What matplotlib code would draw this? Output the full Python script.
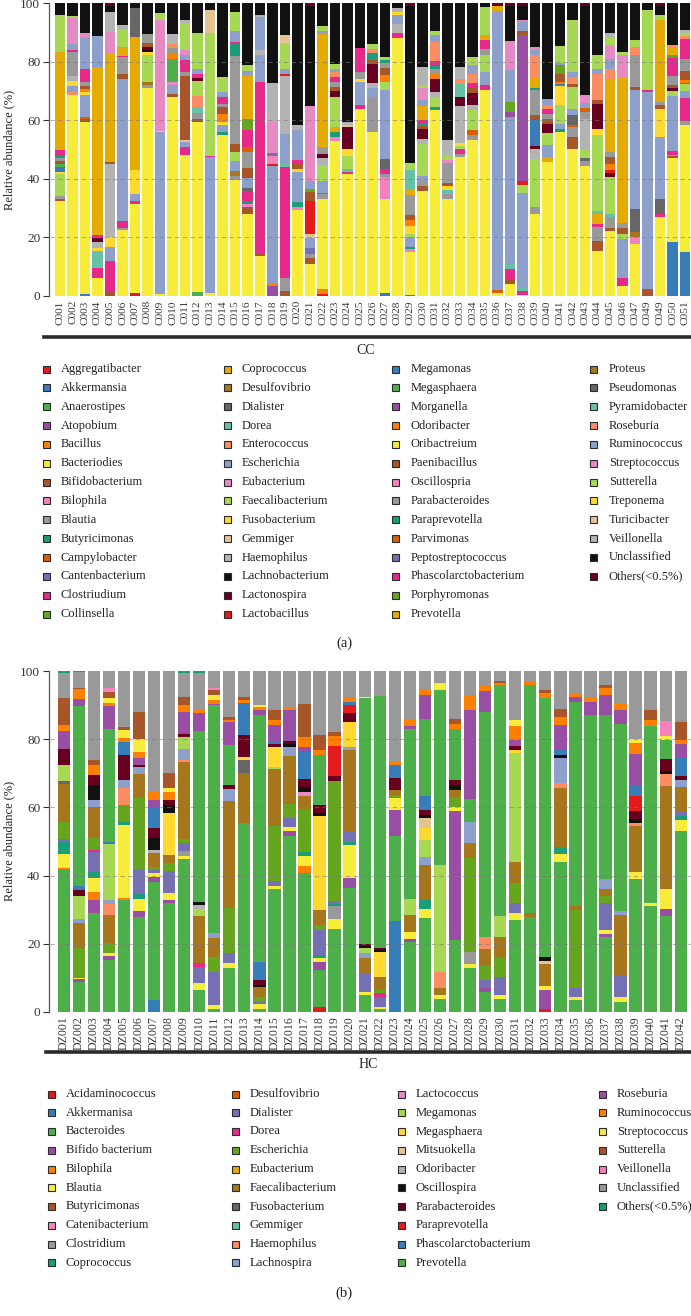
import matplotlib
matplotlib.use("Agg")
import matplotlib.pyplot as plt
from matplotlib.patches import Rectangle
from matplotlib.lines import Line2D
import numpy as np

plt.rcParams['font.family'] = ['Liberation Serif', 'DejaVu Serif']

# ---------------- colour cycle (27 colours, assigned in legend order) ----------------
PALETTE = ["#E41A1C", "#377EB8", "#4DAF4A", "#984EA3", "#FF7F00", "#F8EC3A", "#A65628", "#F781BF", "#999999",
           "#1B9E77", "#D95F02", "#7570B3", "#E7298A", "#66A61E", "#E6AB02", "#A6761D", "#666666",
           "#66C2A5", "#FC8D62", "#8DA0CB", "#E78AC3", "#A6D854", "#FFD92F", "#E5C494", "#B3B3B3",
           "#111111", "#67001F"]

# ---------------- panel (a): CC ----------------
a_taxa = ["Aggregatibacter", "Akkermansia", "Anaerostipes", "Atopobium", "Bacillus", "Bacteriodies",
          "Bifidobacterium", "Bilophila", "Blautia", "Butyricimonas", "Campylobacter", "Cantenbacterium",
          "Clostriudium", "Collinsella", "Coprococcus", "Desulfovibrio", "Dialister", "Dorea", "Enterococcus",
          "Escherichia", "Eubacterium", "Faecalibacterium", "Fusobacterium", "Gemmiger", "Haemophilus",
          "Lachnobacterium", "Lactonospira", "Lactobacillus", "Megamonas", "Megasphaera", "Morganella",
          "Odoribacter", "Oribactreium", "Paenibacillus", "Oscillospria", "Parabacteroides", "Paraprevotella",
          "Parvimonas", "Peptostreptococcus", "Phascolarctobacterium", "Porphyromonas", "Prevotella", "Proteus",
          "Pseudomonas", "Pyramidobacter", "Roseburia", "Ruminococcus", "Streptococcus", "Sutterella",
          "Treponema", "Turicibacter", "Veillonella", "Unclassified", "Others(<0.5%)"]

a_labels = ["C%03d" % i for i in range(1, 48)] + ["C049", "C049", "C050", "C051"]

C001 = {"Bacteriodies": 32.5, "Bifidobacterium": 0.7, "Blautia": 1, "Faecalibacterium": 7.5, "Fusobacterium": 0.8, "Megamonas": 1.5, "Megasphaera": 1, "Paenibacillus": 1, "Parabacteroides": 1, "Paraprevotella": 1, "Phascolarctobacterium": 2, "Prevotella": 33.5, "Sutterella": 12.5, "Unclassified": 4}
C002 = {"Bacteriodies": 68.6, "Enterococcus": 0.8, "Escherichia": 2.3, "Fusobacterium": 1.4, "Haemophilus": 2, "Parabacteroides": 8, "Phascolarctobacterium": 0.6, "Ruminococcus": 2, "Streptococcus": 9, "Sutterella": 0.7, "Unclassified": 4.3}
C003 = {"Akkermansia": 0.6, "Bacteriodies": 59, "Bifidobacterium": 1, "Campylobacter": 0.6, "Escherichia": 7.5, "Fusobacterium": 1, "Odoribacter": 1, "Paenibacillus": 1, "Parabacteroides": 1.5, "Phascolarctobacterium": 4.6, "Ruminococcus": 10.6, "Streptococcus": 1.4, "Unclassified": 10.3}
C004 = {"Bacteriodies": 6, "Clostriudium": 3.4, "Dorea": 5.8, "Haemophilus": 2, "Fusobacterium": 1.3, "Lactonospira": 1.2, "Phascolarctobacterium": 1, "Prevotella": 57.3, "Ruminococcus": 10.7, "Unclassified": 11}
C005 = {"Bifidobacterium": 1.7, "Clostriudium": 10.3, "Escherichia": 4.6, "Fusobacterium": 3.4, "Haemophilus": 25, "Paenibacillus": 0.7, "Prevotella": 37.2, "Streptococcus": 7.4, "Veillonella": 6.8, "Unclassified": 1.9, "Others(<0.5%)": 1}
C006 = {"Bacteriodies": 22.5, "Blautia": 0.9, "Clostriudium": 2.3, "Escherichia": 48.6, "Paenibacillus": 1.7, "Parabacteroides": 5.7, "Phascolarctobacterium": 0.5, "Prevotella": 3, "Sutterella": 6, "Veillonella": 1.5, "Unclassified": 7.5}
C007 = {"Aggregatibacter": 1.1, "Bacteriodies": 30.3, "Clostriudium": 1.2, "Escherichia": 2.3, "Fusobacterium": 8, "Prevotella": 45.7, "Pseudomonas": 9.7, "Unclassified": 1.7}
C008 = {"Bacteriodies": 70.9, "Blautia": 1.1, "Desulfovibrio": 1.1, "Faecalibacterium": 9.2, "Fusobacterium": 1, "Lachnobacterium": 0.7, "Lactonospira": 0.8, "Paenibacillus": 1.3, "Parabacteroides": 3.4, "Unclassified": 10.3}
C009 = {"Bacteriodies": 0.6, "Escherichia": 55.4, "Gemmiger": 0.4, "Streptococcus": 38, "Sutterella": 2.3, "Unclassified": 3.4}
C010 = {"Bacteriodies": 68, "Bifidobacterium": 1, "Escherichia": 3, "Eubacterium": 1, "Megasphaera": 8, "Odoribacter": 1.8, "Parabacteroides": 2, "Roseburia": 1.2, "Veillonella": 3.5, "Unclassified": 10.5}
C011 = {"Bacteriodies": 48, "Clostriudium": 2.9, "Escherichia": 1.6, "Gemmiger": 0.5, "Paenibacillus": 21.8, "Parabacteroides": 1.6, "Phascolarctobacterium": 4, "Ruminococcus": 1.7, "Streptococcus": 1.7, "Sutterella": 9.1, "Veillonella": 1.1, "Unclassified": 5.7}
C012 = {"Anaerostipes": 1.5, "Bacteriodies": 57.9, "Bifidobacterium": 1, "Blautia": 2, "Dorea": 2, "Enterococcus": 4, "Faecalibacterium": 5, "Lactonospira": 1, "Phascolarctobacterium": 1.5, "Ruminococcus": 1.5, "Sutterella": 12.5, "Unclassified": 10}
C013 = {"Bacteriodies": 1, "Escherichia": 46.4, "Phascolarctobacterium": 0.6, "Sutterella": 41.7, "Turicibacter": 8, "Unclassified": 2.3}
C014 = {"Bacteriodies": 54.9, "Butyricimonas": 1, "Escherichia": 2.3, "Fusobacterium": 1.1, "Odoribacter": 2.9, "Paenibacillus": 2.3, "Parabacteroides": 1, "Phascolarctobacterium": 2.3, "Ruminococcus": 1.7, "Sutterella": 5.2, "Unclassified": 25.1}
C015 = {"Bacteriodies": 39.4, "Blautia": 1.1, "Desulfovibrio": 1.7, "Escherichia": 3.4, "Faecalibacterium": 3, "Paenibacillus": 2.8, "Parabacteroides": 29.7, "Paraprevotella": 4.1, "Phascolarctobacterium": 0.8, "Ruminococcus": 3.6, "Sutterella": 6.4, "Unclassified": 3}
C016 = {"Bacteriodies": 28, "Bifidobacterium": 2.3, "Bilophila": 1.1, "Butyricimonas": 1.1, "Clostriudium": 3.4, "Dialister": 1, "Escherichia": 3.5, "Paenibacillus": 3.4, "Parabacteroides": 5.5, "Parvimonas": 1.7, "Phascolarctobacterium": 5.7, "Porphyromonas": 4, "Prevotella": 14.4, "Ruminococcus": 2, "Sutterella": 2, "Unclassified": 21}
C017 = {"Bacteriodies": 13.7, "Bifidobacterium": 0.6, "Clostriudium": 58.7, "Escherichia": 9.3, "Haemophilus": 1.7, "Ruminococcus": 11.4, "Veillonella": 0.6, "Unclassified": 4}
C018 = {"Atopobium": 3.4, "Bacillus": 1.1, "Escherichia": 40, "Lactobacillus": 0.6, "Oscillospria": 2.7, "Peptostreptococcus": 1, "Streptococcus": 10.8, "Veillonella": 13.2, "Unclassified": 27.4}
C019 = {"Bifidobacterium": 1.7, "Blautia": 4.6, "Clostriudium": 37.7, "Dorea": 1.1, "Escherichia": 10.4, "Haemophilus": 19.6, "Lactobacillus": 0.9, "Ruminococcus": 1.7, "Sutterella": 8.6, "Turicibacter": 2.7, "Unclassified": 11}
C020 = {"Bacteriodies": 29.3, "Bilophila": 1.1, "Butyricimonas": 1.7, "Escherichia": 10.3, "Fusobacterium": 1.1, "Paenibacillus": 1.7, "Phascolarctobacterium": 1.1, "Ruminococcus": 10.3, "Veillonella": 1.7, "Unclassified": 41.7}
C021 = {"Bacteriodies": 10.9, "Bifidobacterium": 2.2, "Blautia": 1.1, "Cantenbacterium": 2.3, "Escherichia": 3.4, "Gemmiger": 1.1, "Lactobacillus": 11.5, "Paenibacillus": 2.8, "Porphyromonas": 1.1, "Ruminococcus": 2.8, "Streptococcus": 25.6, "Unclassified": 34, "Others(<0.5%)": 1}
C022 = {"Aggregatibacter": 0.6, "Bacillus": 1.7, "Bacteriodies": 30.7, "Blautia": 1.7, "Campylobacter": 0.6, "Escherichia": 4, "Faecalibacterium": 5.6, "Haemophilus": 2.4, "Lactonospira": 1.2, "Parabacteroides": 2.3, "Prevotella": 38.8, "Ruminococcus": 1, "Sutterella": 1.6, "Unclassified": 7.8}
C023 = {"Bacteriodies": 53.1, "Bilophila": 1.1, "Butyricimonas": 1.7, "Coprococcus": 1.7, "Faecalibacterium": 10.3, "Lactonospira": 2.3, "Paenibacillus": 1.1, "Parabacteroides": 1.7, "Phascolarctobacterium": 1.7, "Roseburia": 1.7, "Ruminococcus": 1.1, "Sutterella": 1.7, "Unclassified": 20.8}
C024 = {"Bacteriodies": 41.7, "Clostriudium": 0.6, "Dorea": 1.1, "Faecalibacterium": 4.6, "Fusobacterium": 2.3, "Lactonospira": 7.4, "Turicibacter": 0.8, "Veillonella": 0.9, "Unclassified": 40.6}
C025 = {"Bacteriodies": 64, "Clostriudium": 1.1, "Escherichia": 8, "Fusobacterium": 1.2, "Parabacteroides": 2.3, "Phascolarctobacterium": 8, "Unclassified": 15.4}
C026 = {"Bacteriodies": 56, "Blautia": 11.4, "Escherichia": 3.5, "Haemophilus": 1.7, "Lactonospira": 6.3, "Paenibacillus": 1.6, "Paraprevotella": 2.3, "Roseburia": 1.5, "Sutterella": 1.7, "Unclassified": 13.7}
C027 = {"Akkermansia": 1.1, "Bacteriodies": 32, "Bilophila": 7.4, "Blautia": 1.1, "Clostriudium": 1.7, "Dialister": 3.4, "Escherichia": 23.4, "Faecalibacterium": 2.8, "Odoribacter": 2.3, "Paenibacillus": 2.3, "Parabacteroides": 1.7, "Paraprevotella": 1.1, "Sutterella": 1.1, "Unclassified": 18.3}
C028 = {"Bacteriodies": 88, "Clostriudium": 1.7, "Haemophilus": 3.3, "Ruminococcus": 3, "Treponema": 1, "Veillonella": 1.3, "Unclassified": 1.7}
C029 = {"Akkermansia": 0.5, "Bacteriodies": 14.4, "Bilophila": 1, "Butyricimonas": 1, "Escherichia": 3.4, "Faecalibacterium": 1, "Fusobacterium": 2.7, "Odoribacter": 2, "Paenibacillus": 1.7, "Parabacteroides": 6.8, "Prevotella": 1.6, "Pyramidobacter": 7, "Sutterella": 2.3, "Unclassified": 53.6, "Others(<0.5%)": 1}
C030 = {"Bacteriodies": 36, "Bifidobacterium": 1.7, "Blautia": 1.5, "Escherichia": 1.7, "Faecalibacterium": 10.9, "Haemophilus": 1.7, "Lactonospira": 3.4, "Paenibacillus": 1.1, "Paraprevotella": 1, "Phascolarctobacterium": 1, "Prevotella": 5, "Ruminococcus": 1.9, "Streptococcus": 4, "Sutterella": 1.1, "Veillonella": 6.3, "Unclassified": 21.7}
C031 = {"Bacteriodies": 63.4, "Butyricimonas": 1.1, "Faecalibacterium": 3.4, "Haemophilus": 1.7, "Lactonospira": 4.6, "Odoribacter": 1.7, "Parabacteroides": 1.7, "Paraprevotella": 1.1, "Phascolarctobacterium": 1.7, "Roseburia": 6.3, "Ruminococcus": 2.3, "Sutterella": 1.6, "Unclassified": 9.4}
C032 = {"Bacteriodies": 33, "Blautia": 1.7, "Dorea": 1.4, "Fusobacterium": 1.4, "Paenibacillus": 1.1, "Parabacteroides": 6.9, "Streptococcus": 1.1, "Sutterella": 1.1, "Veillonella": 5.7, "Unclassified": 46.6}
C033 = {"Bacteriodies": 47.4, "Blautia": 1.1, "Clostriudium": 1.7, "Faecalibacterium": 1.1, "Fusobacterium": 1.1, "Haemophilus": 12.6, "Lactonospira": 2.9, "Pyramidobacter": 4.6, "Roseburia": 1.7, "Veillonella": 4, "Unclassified": 21.8}
C034 = {"Bacteriodies": 53, "Blautia": 1.7, "Campylobacter": 1.6, "Faecalibacterium": 6.9, "Haemophilus": 1.7, "Lactonospira": 4, "Paenibacillus": 1.7, "Phascolarctobacterium": 1.7, "Roseburia": 3, "Ruminococcus": 3, "Sutterella": 2.7, "Unclassified": 18.3}
C035 = {"Bacteriodies": 70.3, "Clostriudium": 1.7, "Escherichia": 4.6, "Faecalibacterium": 5.7, "Parabacteroides": 2.3, "Phascolarctobacterium": 2.9, "Prevotella": 1.6, "Sutterella": 9.9, "Unclassified": 1.1}
C036 = {"Bacteriodies": 1, "Campylobacter": 1, "Escherichia": 95.5, "Prevotella": 1.5, "Others(<0.5%)": 1}
C037 = {"Bacteriodies": 4, "Bifidobacterium": 1.7, "Clostriudium": 3.4, "Dorea": 2.2, "Escherichia": 50, "Morganella": 1.7, "Porphyromonas": 3.4, "Ruminococcus": 10.7, "Streptococcus": 9.9, "Unclassified": 12, "Others(<0.5%)": 1}
C038 = {"Bacteriodies": 0.5, "Clostriudium": 1.1, "Dorea": 1, "Escherichia": 32.7, "Faecalibacterium": 2.7, "Lactobacillus": 1.2, "Morganella": 50.1, "Paenibacillus": 1.1, "Ruminococcus": 3.4, "Streptococcus": 0.6, "Unclassified": 4.6, "Others(<0.5%)": 1}
C039 = {"Bacteriodies": 28, "Blautia": 2.3, "Faecalibacterium": 16.6, "Haemophilus": 3.4, "Lactonospira": 1.1, "Megamonas": 8.6, "Paenibacillus": 1.7, "Parabacteroides": 8.6, "Paraprevotella": 0.6, "Prevotella": 4, "Roseburia": 7.4, "Ruminococcus": 1.7, "Streptococcus": 1.1, "Unclassified": 14.9}
C040 = {"Bacteriodies": 45, "Coprococcus": 1.9, "Escherichia": 4, "Faecalibacterium": 4, "Lactonospira": 2.9, "Paenibacillus": 1.7, "Parabacteroides": 1.7, "Phascolarctobacterium": 1.7, "Roseburia": 1.1, "Ruminococcus": 2.3, "Unclassified": 32.2}
C041 = {"Bacteriodies": 55.4, "Butyricimonas": 1.1, "Escherichia": 1.7, "Faecalibacterium": 6.4, "Fusobacterium": 6.4, "Megamonas": 0.6, "Odoribacter": 0.6, "Paenibacillus": 2.9, "Porphyromonas": 2.8, "Ruminococcus": 0.8, "Sutterella": 5.7, "Unclassified": 14.5}
C042 = {"Bacteriodies": 50.3, "Bifidobacterium": 4, "Blautia": 3.4, "Campylobacter": 0.6, "Dialister": 3.4, "Escherichia": 2.3, "Faecalibacterium": 7.4, "Paenibacillus": 1, "Roseburia": 2.3, "Ruminococcus": 1.7, "Sutterella": 17.9, "Unclassified": 5.7}
C043 = {"Bacteriodies": 44, "Blautia": 1.7, "Dialister": 1.1, "Faecalibacterium": 2.9, "Haemophilus": 10.3, "Parabacteroides": 2.3, "Parvimonas": 1.6, "Ruminococcus": 1.7, "Streptococcus": 2.7, "Unclassified": 30, "Others(<0.5%)": 1}
C044 = {"Bacteriodies": 15.4, "Bifidobacterium": 3.5, "Blautia": 4.5, "Clostriudium": 1.1, "Coprococcus": 3.4, "Dorea": 1.1, "Faecalibacterium": 25.8, "Fusobacterium": 2.2, "Lactonospira": 8.6, "Paenibacillus": 1.1, "Roseburia": 9.1, "Ruminococcus": 1.7, "Sutterella": 4.6, "Unclassified": 17.7}
C045 = {"Bacteriodies": 22.3, "Bifidobacterium": 1.1, "Blautia": 3.5, "Dorea": 1.1, "Faecalibacterium": 12.6, "Lactonospira": 1.4, "Lactobacillus": 1.1, "Odoribacter": 2, "Paenibacillus": 2.4, "Parabacteroides": 1.7, "Prevotella": 24.6, "Roseburia": 4, "Ruminococcus": 3.3, "Streptococcus": 4.7, "Sutterella": 2.3, "Veillonella": 1.7, "Unclassified": 10.3}
C046 = {"Bacteriodies": 3.4, "Clostriudium": 2.9, "Escherichia": 13.1, "Faecalibacterium": 1.7, "Paenibacillus": 2, "Parabacteroides": 1.9, "Prevotella": 49.9, "Streptococcus": 7.4, "Sutterella": 1.1, "Unclassified": 16.6}
C047 = {"Bacteriodies": 17.7, "Bilophila": 2.3, "Desulfovibrio": 1.7, "Dialister": 8, "Escherichia": 40.6, "Paenibacillus": 1.1, "Parabacteroides": 10.9, "Roseburia": 2.7, "Sutterella": 2.4, "Unclassified": 12.6}
C048 = {"Bifidobacterium": 2.3, "Escherichia": 67.4, "Phascolarctobacterium": 0.6, "Sutterella": 27.4, "Unclassified": 2.3}
C049 = {"Bacteriodies": 27, "Clostriudium": 1, "Dialister": 5.1, "Escherichia": 21.2, "Fusobacterium": 9.7, "Paenibacillus": 1.1, "Parabacteroides": 1.2, "Prevotella": 28, "Sutterella": 1.7, "Unclassified": 3, "Others(<0.5%)": 1}
C050 = {"Akkermansia": 18.3, "Bacteriodies": 28.6, "Bifidobacterium": 0.5, "Blautia": 0.6, "Clostriudium": 1.1, "Escherichia": 18.9, "Faecalibacterium": 1.7, "Lactonospira": 1, "Paenibacillus": 1, "Parabacteroides": 2.9, "Phascolarctobacterium": 6.2, "Porphyromonas": 0.9, "Prevotella": 2.8, "Roseburia": 0.6, "Unclassified": 14.3}
C051 = {"Akkermansia": 14.9, "Bacteriodies": 43.4, "Blautia": 1.1, "Clostriudium": 8, "Escherichia": 2.3, "Faecalibacterium": 2.3, "Megamonas": 0.6, "Odoribacter": 1, "Paenibacillus": 2.9, "Parabacteroides": 4, "Phascolarctobacterium": 6.8, "Roseburia": 1.1, "Sutterella": 1.1, "Veillonella": 1, "Unclassified": 9.1}

a_samples = [C001, C002, C003, C004, C005, C006, C007, C008, C009, C010, C011, C012, C013, C014, C015, C016, C017,
             C018, C019, C020, C021, C022, C023, C024, C025, C026, C027, C028, C029, C030, C031, C032, C033, C034,
             C035, C036, C037, C038, C039, C040, C041, C042, C043, C044, C045, C046, C047, C048, C049, C050, C051]

# ---------------- panel (b): HC ----------------
b_taxa = ["Acidaminococcus", "Akkermanisa", "Bacteroides", "Bifido bacterium", "Bilophila", "Blautia",
          "Butyricimonas", "Catenibacterium", "Clostridium", "Coprococcus", "Desulfovibrio", "Dialister", "Dorea",
          "Escherichia", "Eubacterium", "Faecalibacterium", "Fusobacterium", "Gemmiger", "Haemophilus",
          "Lachnospira", "Lactococcus", "Megamonas", "Megasphaera", "Mitsuokella", "Odoribacter", "Oscillospira",
          "Parabacteroides", "Paraprevotella", "Phascolarctobacterium", "Prevotella", "Roseburia", "Ruminococcus",
          "Streptococcus", "Sutterella", "Veillonella", "Unclassified", "Others(<0.5%)"]

b_labels = ["DZ%03d" % i for i in range(1, 43)]

DZ001 = {"Bacteroides": 41.9, "Bilophila": 0.3, "Blautia": 3.9, "Coprococcus": 3.9, "Dialister": 0.5, "Escherichia": 4.9, "Faecalibacterium": 11.2, "Fusobacterium": 1, "Megamonas": 4.6, "Parabacteroides": 4.7, "Roseburia": 5.1, "Ruminococcus": 1.8, "Sutterella": 8, "Unclassified": 7.3, "Others(<0.5%)": 0.5}
DZ002 = {"Bacteroides": 8.9, "Bifido bacterium": 0.7, "Blautia": 0.5, "Escherichia": 8.8, "Faecalibacterium": 7.3, "Lachnospira": 1, "Megamonas": 6.8, "Parabacteroides": 1.7, "Phascolarctobacterium": 1.3, "Prevotella": 52.7, "Roseburia": 2, "Ruminococcus": 3.1, "Sutterella": 0.3, "Unclassified": 4.6, "Others(<0.5%)": 0.3}
DZ003 = {"Bacteroides": 28.9, "Bifido bacterium": 3.9, "Bilophila": 2.5, "Blautia": 3.9, "Coprococcus": 1.9, "Dialister": 5.9, "Dorea": 0.5, "Escherichia": 3.4, "Faecalibacterium": 9.3, "Lachnospira": 2, "Oscillospira": 4.3, "Parabacteroides": 3, "Ruminococcus": 2.9, "Sutterella": 1.5, "Unclassified": 26.1}
DZ004 = {"Bacteroides": 15.2, "Bifido bacterium": 1, "Blautia": 1, "Escherichia": 2.9, "Faecalibacterium": 8.3, "Haemophilus": 3, "Lachnospira": 1.4, "Megamonas": 16.2, "Phascolarctobacterium": 0.5, "Prevotella": 33.2, "Roseburia": 6.6, "Ruminococcus": 1, "Streptococcus": 1.2, "Sutterella": 2, "Veillonella": 1, "Unclassified": 5}
DZ005 = {"Bacteroides": 32.8, "Bilophila": 0.5, "Blautia": 21.5, "Coprococcus": 1, "Escherichia": 4.9, "Haemophilus": 4.9, "Lachnospira": 2.4, "Parabacteroides": 7.3, "Phascolarctobacterium": 3.9, "Ruminococcus": 1, "Streptococcus": 2.4, "Sutterella": 1, "Unclassified": 16.3}
DZ006 = {"Bacteroides": 27.5, "Bifido bacterium": 1.9, "Blautia": 3.4, "Coprococcus": 1.5, "Dialister": 6.9, "Escherichia": 21, "Faecalibacterium": 6.9, "Lachnospira": 2, "Parabacteroides": 0.5, "Roseburia": 2.2, "Ruminococcus": 1.5, "Streptococcus": 3.9, "Sutterella": 7.9, "Unclassified": 11.8}
DZ007 = {"Akkermanisa": 3.5, "Bacteroides": 34.7, "Bifido bacterium": 1.5, "Blautia": 1, "Dialister": 1, "Escherichia": 1, "Faecalibacterium": 3.9, "Odoribacter": 1, "Oscillospira": 3.4, "Parabacteroides": 3, "Phascolarctobacterium": 5.8, "Roseburia": 2.5, "Ruminococcus": 2.4, "Unclassified": 35.4}
DZ008 = {"Bacteroides": 31.9, "Bifido bacterium": 1, "Blautia": 2, "Dialister": 6.4, "Escherichia": 2.4, "Faecalibacterium": 2.4, "Megasphaera": 12.2, "Oscillospira": 2.4, "Parabacteroides": 1.5, "Ruminococcus": 2.5, "Streptococcus": 1, "Sutterella": 4.4, "Unclassified": 30}
DZ009 = {"Bacteroides": 44.6, "Blautia": 1, "Clostridium": 1.5, "Dialister": 2.4, "Escherichia": 1, "Faecalibacterium": 22.5, "Haemophilus": 0.5, "Lachnospira": 3.4, "Megamonas": 3.4, "Parabacteroides": 1, "Roseburia": 6.3, "Ruminococcus": 2, "Sutterella": 2.5, "Unclassified": 7, "Others(<0.5%)": 0.5}
DZ010 = {"Bacteroides": 6.5, "Blautia": 1.9, "Dialister": 4.9, "Dorea": 1, "Faecalibacterium": 14.1, "Megamonas": 2, "Odoribacter": 1, "Oscillospira": 1, "Prevotella": 50.3, "Roseburia": 5.3, "Ruminococcus": 1, "Unclassified": 10.9, "Others(<0.5%)": 0.5}
DZ011 = {"Bacteroides": 1, "Blautia": 1, "Dialister": 9.8, "Escherichia": 4.4, "Faecalibacterium": 5.4, "Lachnospira": 1.5, "Prevotella": 67, "Roseburia": 0.5, "Ruminococcus": 1, "Streptococcus": 1.5, "Sutterella": 1.5, "Veillonella": 0.5, "Unclassified": 5.1}
DZ012 = {"Bacteroides": 12.8, "Blautia": 1.5, "Dialister": 2.9, "Escherichia": 13.2, "Faecalibacterium": 31.3, "Lachnospira": 3.4, "Parabacteroides": 1, "Prevotella": 11.7, "Roseburia": 6.8, "Ruminococcus": 0.5, "Sutterella": 1, "Unclassified": 13.4}
DZ013 = {"Bacteroides": 55.3, "Faecalibacterium": 14.7, "Fusobacterium": 3.9, "Megasphaera": 1, "Parabacteroides": 6.3, "Phascolarctobacterium": 9.3, "Ruminococcus": 1, "Sutterella": 1, "Unclassified": 7.5}
DZ014 = {"Bacteroides": 1, "Blautia": 1.4, "Dialister": 0.5, "Escherichia": 1.5, "Faecalibacterium": 3, "Oscillospira": 0.5, "Parabacteroides": 1.5, "Phascolarctobacterium": 5.4, "Prevotella": 72.3, "Roseburia": 1.5, "Ruminococcus": 1, "Streptococcus": 0.5, "Unclassified": 10}
DZ015 = {"Bacteroides": 35.8, "Blautia": 1, "Dialister": 1.5, "Escherichia": 16.1, "Faecalibacterium": 16.6, "Megamonas": 0.5, "Megasphaera": 5.8, "Parabacteroides": 1, "Phascolarctobacterium": 1, "Roseburia": 4.4, "Ruminococcus": 1.5, "Sutterella": 3, "Unclassified": 11.4}
DZ016 = {"Bacteroides": 51.4, "Bifido bacterium": 1.5, "Blautia": 1, "Dialister": 2.9, "Escherichia": 3.9, "Faecalibacterium": 14.2, "Lachnospira": 2.4, "Oscillospira": 1, "Parabacteroides": 1, "Roseburia": 8.8, "Ruminococcus": 1, "Unclassified": 10.5}
DZ017 = {"Bacteroides": 40.7, "Bilophila": 1.9, "Blautia": 3, "Coprococcus": 1, "Escherichia": 12.7, "Faecalibacterium": 3.9, "Lactococcus": 1, "Oscillospira": 1.5, "Parabacteroides": 2.4, "Phascolarctobacterium": 7.8, "Roseburia": 1.5, "Ruminococcus": 2.9, "Sutterella": 9.8, "Unclassified": 9.5}
DZ018 = {"Acidaminococcus": 1.6, "Bacteroides": 10.7, "Bifido bacterium": 2.5, "Blautia": 1, "Coprococcus": 1, "Dialister": 7.3, "Escherichia": 1.5, "Faecalibacterium": 4.4, "Megasphaera": 27.4, "Oscillospira": 1, "Parabacteroides": 2.4, "Prevotella": 14.7, "Ruminococcus": 1.4, "Sutterella": 4.4, "Unclassified": 18.8}
DZ019 = {"Bacteroides": 24, "Blautia": 2.9, "Clostridium": 3.9, "Coprococcus": 0.5, "Dialister": 1, "Escherichia": 34.7, "Parabacteroides": 1.5, "Paraprevotella": 8.8, "Ruminococcus": 2.9, "Sutterella": 1, "Unclassified": 17.8}
DZ020 = {"Bacteroides": 36.3, "Bifido bacterium": 2.9, "Blautia": 9.8, "Coprococcus": 1, "Dialister": 2.9, "Faecalibacterium": 23.9, "Lachnospira": 1, "Megasphaera": 7.3, "Parabacteroides": 2.5, "Paraprevotella": 2.4, "Phascolarctobacterium": 1, "Ruminococcus": 1.5, "Unclassified": 7.5}
DZ021 = {"Bacteroides": 4.9, "Blautia": 1, "Dialister": 5.4, "Faecalibacterium": 4.5, "Lachnospira": 1.5, "Megamonas": 1.5, "Oscillospira": 0.6, "Parabacteroides": 0.6, "Prevotella": 72, "Streptococcus": 0.5, "Unclassified": 7.5}
DZ022 = {"Bacteroides": 1, "Blautia": 0.5, "Dialister": 3, "Dorea": 1, "Escherichia": 1, "Faecalibacterium": 3.9, "Megasphaera": 7.2, "Oscillospira": 0.6, "Parabacteroides": 0.6, "Prevotella": 74, "Ruminococcus": 0.5, "Unclassified": 7}
DZ023 = {"Akkermanisa": 26.6, "Bacteroides": 24.9, "Bifido bacterium": 7.8, "Blautia": 3.4, "Escherichia": 1, "Faecalibacterium": 1.5, "Parabacteroides": 3.4, "Phascolarctobacterium": 3.9, "Ruminococcus": 1, "Unclassified": 26.5}
DZ024 = {"Bacteroides": 20.5, "Bifido bacterium": 1, "Blautia": 2, "Faecalibacterium": 5, "Megamonas": 4.5, "Prevotella": 50, "Roseburia": 1, "Ruminococcus": 1.7, "Unclassified": 14.3}
DZ025 = {"Bacteroides": 27.5, "Blautia": 2.6, "Coprococcus": 2.5, "Faecalibacterium": 10.2, "Lachnospira": 2.4, "Megamonas": 4.9, "Megasphaera": 3.4, "Mitsuokella": 3, "Oscillospira": 1, "Parabacteroides": 1.5, "Phascolarctobacterium": 3.9, "Prevotella": 22.6, "Roseburia": 6.8, "Ruminococcus": 1.5, "Unclassified": 5.6}
DZ026 = {"Bacteroides": 3.9, "Blautia": 1, "Faecalibacterium": 2, "Haemophilus": 4.9, "Megamonas": 31.4, "Prevotella": 51.2, "Streptococcus": 2, "Unclassified": 3.6}
DZ027 = {"Bacteroides": 21, "Bifido bacterium": 38, "Blautia": 1, "Escherichia": 3, "Faecalibacterium": 2, "Oscillospira": 1.5, "Parabacteroides": 1.5, "Prevotella": 15, "Ruminococcus": 1.5, "Sutterella": 1.5, "Unclassified": 14}
DZ028 = {"Bacteroides": 13, "Blautia": 1, "Clostridium": 3.4, "Escherichia": 27.5, "Faecalibacterium": 4.4, "Lachnospira": 6.3, "Prevotella": 6.8, "Roseburia": 25.9, "Ruminococcus": 4.4, "Unclassified": 7}
DZ029 = {"Bacteroides": 6, "Bifido bacterium": 1, "Dialister": 2.5, "Escherichia": 4, "Faecalibacterium": 5, "Haemophilus": 3.5, "Prevotella": 66, "Roseburia": 6, "Ruminococcus": 1.5, "Unclassified": 4.5}
DZ030 = {"Bacteroides": 3.9, "Blautia": 1, "Dialister": 5.5, "Escherichia": 5.5, "Faecalibacterium": 6, "Megamonas": 6.3, "Prevotella": 67.8, "Ruminococcus": 0.5, "Sutterella": 0.5, "Unclassified": 3}
DZ031 = {"Bacteroides": 27, "Blautia": 2, "Dialister": 3, "Escherichia": 5.9, "Faecalibacterium": 6.3, "Megamonas": 31.9, "Megasphaera": 1, "Parabacteroides": 1, "Roseburia": 2, "Ruminococcus": 3.9, "Streptococcus": 2, "Unclassified": 14.3}
DZ032 = {"Bacteroides": 28, "Faecalibacterium": 1, "Prevotella": 67, "Ruminococcus": 1, "Unclassified": 3}
DZ033 = {"Acidaminococcus": 1, "Bifido bacterium": 5.5, "Blautia": 1, "Faecalibacterium": 6.5, "Mitsuokella": 1, "Oscillospira": 1, "Prevotella": 76, "Ruminococcus": 1.5, "Sutterella": 1, "Unclassified": 5.5}
DZ034 = {"Bacteroides": 44, "Blautia": 2.4, "Coprococcus": 2, "Faecalibacterium": 17.1, "Haemophilus": 1.5, "Lachnospira": 7.3, "Oscillospira": 1, "Phascolarctobacterium": 1.5, "Roseburia": 7.3, "Ruminococcus": 2.4, "Sutterella": 2.4, "Unclassified": 11}
DZ035 = {"Bacteroides": 3.5, "Blautia": 1, "Dialister": 2.5, "Escherichia": 23, "Faecalibacterium": 1, "Prevotella": 60, "Roseburia": 1.5, "Ruminococcus": 1, "Unclassified": 6.5}
DZ036 = {"Bacteroides": 87, "Roseburia": 4, "Ruminococcus": 1, "Unclassified": 8}
DZ037 = {"Bacteroides": 22, "Bifido bacterium": 1, "Blautia": 1, "Dialister": 8, "Escherichia": 2, "Faecalibacterium": 2, "Lachnospira": 3, "Prevotella": 48, "Roseburia": 6, "Ruminococcus": 2, "Sutterella": 1, "Unclassified": 4}
DZ038 = {"Bacteroides": 3, "Blautia": 1.5, "Dialister": 6, "Faecalibacterium": 18, "Lachnospira": 1, "Prevotella": 55, "Roseburia": 4, "Ruminococcus": 2, "Unclassified": 9.5}
DZ039 = {"Bacteroides": 35, "Blautia": 2, "Faecalibacterium": 12, "Haemophilus": 1, "Oscillospira": 1, "Parabacteroides": 2, "Paraprevotella": 4, "Phascolarctobacterium": 3, "Roseburia": 8, "Ruminococcus": 3, "Streptococcus": 1, "Unclassified": 18}
DZ040 = {"Bacteroides": 31, "Blautia": 1, "Prevotella": 52, "Ruminococcus": 1.5, "Sutterella": 3, "Unclassified": 11.5}
DZ041 = {"Bacteroides": 25, "Bifido bacterium": 2, "Blautia": 5, "Faecalibacterium": 27, "Haemophilus": 3, "Oscillospira": 1, "Parabacteroides": 3, "Prevotella": 5, "Streptococcus": 1, "Veillonella": 4, "Unclassified": 13}
DZ042 = {"Bacteroides": 50, "Blautia": 3, "Coprococcus": 1, "Dialister": 1, "Faecalibacterium": 7, "Lachnospira": 2, "Parabacteroides": 1, "Phascolarctobacterium": 5, "Roseburia": 4, "Ruminococcus": 1, "Sutterella": 5, "Unclassified": 14}

b_samples = [DZ001, DZ002, DZ003, DZ004, DZ005, DZ006, DZ007, DZ008, DZ009, DZ010, DZ011, DZ012, DZ013, DZ014,
             DZ015, DZ016, DZ017, DZ018, DZ019, DZ020, DZ021, DZ022, DZ023, DZ024, DZ025, DZ026, DZ027, DZ028,
             DZ029, DZ030, DZ031, DZ032, DZ033, DZ034, DZ035, DZ036, DZ037, DZ038, DZ039, DZ040, DZ041, DZ042]

# ---------------- figure ----------------
W, H = 691, 1316
fig = plt.figure(figsize=(W / 100, H / 100), dpi=100)


def px_axes(x0, y_top, x1, y_bot):
    return fig.add_axes([x0 / W, 1 - y_bot / H, (x1 - x0) / W, (y_bot - y_top) / H])


def draw_panel(ax, taxa, samples, labels, first_px, pitch_px, x0_px, x1_px, tick_fs):
    n = len(samples)
    x = np.arange(n)
    totals = np.array([sum(s.values()) for s in samples])
    bottom = np.zeros(n)
    for k, name in enumerate(taxa):
        vals = np.array([s.get(name, 0.0) for s in samples]) / totals * 100.0
        if vals.sum() == 0:
            continue
        ax.bar(x, vals, bottom=bottom, width=0.82, color=PALETTE[k % 27], linewidth=0, zorder=2)
        bottom += vals
    lo = -(first_px - x0_px) / pitch_px
    ax.set_xlim(lo, lo + (x1_px - x0_px) / pitch_px)
    ax.set_ylim(0, 100)
    ax.set_yticks([0, 20, 40, 60, 80, 100])
    for g in (20, 40, 60, 80):
        ax.axhline(g, color="#7a7a7a", lw=0.8, ls=(0, (4, 3)), alpha=0.55, zorder=4)
    ax.set_xticks(x)
    ax.set_xticklabels(labels, rotation=90, fontsize=tick_fs, color="#3a3a3a")
    ax.tick_params(axis="x", length=0, pad=3)
    ax.tick_params(axis="y", length=4, width=0.8, colors="#333333", labelsize=9.5, pad=2)
    for s in ("top", "right", "bottom"):
        ax.spines[s].set_visible(False)
    ax.spines["left"].set_color("#555555")
    ax.spines["left"].set_linewidth(0.9)
    ax.spines["left"].set_position(("outward", 1))


axA = px_axes(50, 3.3, 691, 296)
draw_panel(axA, a_taxa, a_samples, a_labels, 60, 12.5, 50, 691, 8.2)
axB = px_axes(50, 671, 691, 1012)
draw_panel(axB, b_taxa, b_samples, b_labels, 63.7, 15.05, 50, 691, 8.6)

# overlay for legends and group labels, in pixel coordinates
lax = fig.add_axes([0, 0, 1, 1])
lax.set_xlim(0, W)
lax.set_ylim(H, 0)
lax.axis("off")

lax.text(9, 150, "Relative abundance (%)", rotation=90, ha="center", va="center", fontsize=9, color="#222222")
lax.text(9, 841, "Relative abundance (%)", rotation=90, ha="center", va="center", fontsize=9, color="#222222")

lax.add_line(Line2D([44, 691], [337, 337], lw=2.6, color="#2a2a2a"))
lax.text(366, 350, "CC", ha="center", va="center", fontsize=10, color="#222222")
lax.add_line(Line2D([46, 691], [1052, 1052], lw=2.6, color="#2a2a2a"))
lax.text(368, 1065, "HC", ha="center", va="center", fontsize=10, color="#222222")


def draw_legend(taxa, nrows, y0, dy, sq_x, tx_x, fs):
    for k, name in enumerate(taxa):
        c, r = divmod(k, nrows)
        y = y0 + r * dy
        lax.add_patch(Rectangle((sq_x[c] - 3.5, y - 3.5), 7, 7, facecolor=PALETTE[k % 27],
                                edgecolor="#2b2b2b", lw=0.8))
        lax.text(tx_x[c], y, name, ha="left", va="center", fontsize=fs, color="#222222")


draw_legend(a_taxa, 14, 369, 18.85, [47, 228, 396, 594], [61, 242, 411, 609], 9.0)
draw_legend(b_taxa, 10, 1094, 18.75, [52, 236, 402, 603], [66, 250, 416, 617], 9.1)

lax.text(344, 643, "(a)", ha="center", va="center", fontsize=10.5, color="#222222")
lax.text(344, 1293, "(b)", ha="center", va="center", fontsize=10.5, color="#222222")

fig.savefig("out.png", dpi=100)
